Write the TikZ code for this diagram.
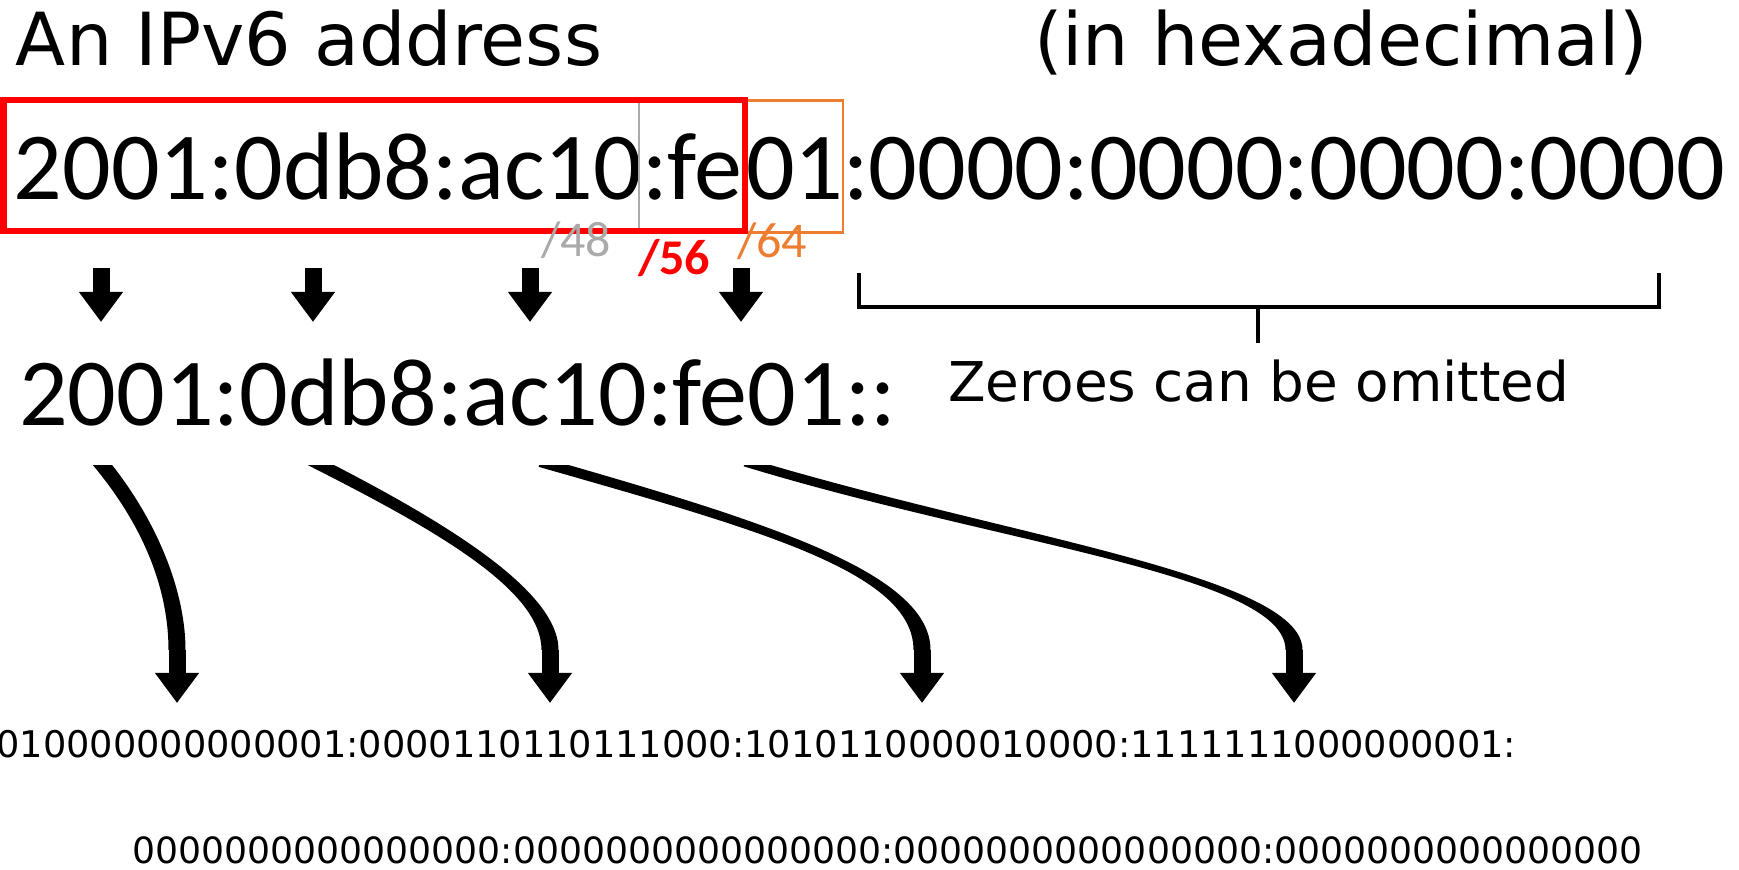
\documentclass[tikz,border=0pt]{standalone}
\usepackage{fontspec}
\setmainfont{DejaVu Sans}
\newfontfamily\hexfont{Carlito}
\newfontfamily\dvs{DejaVu Sans}
\usetikzlibrary{arrows.meta,calc}
\definecolor{pfxred}{RGB}{255,0,0}
\definecolor{pfxorange}{RGB}{237,125,49}
\definecolor{pfxgray}{RGB}{170,170,170}
\newcommand\tapercurve[6]{%
  \fill ($(#1)!#5!90:(#2)$) .. controls ($(#2)!#5!-90:(#1)$) and ($(#3)!#6!90:(#4)$) .. ($(#4)!#6!-90:(#3)$)
     -- ($(#4)!#6!90:(#3)$) .. controls ($(#3)!#6!-90:(#4)$) and ($(#2)!#5!90:(#1)$) .. ($(#1)!#5!-90:(#2)$) -- cycle;}
\begin{document}
\begin{tikzpicture}[x=0.5pt,y=-0.5pt,
  txt/.style={inner sep=0pt, outer sep=0pt, anchor=base west},
  hex/.style={txt, font=\hexfont\fontsize{48pt}{48pt}\selectfont},
  titletxt/.style={txt, font=\dvs\fontsize{36.6pt}{36.6pt}\selectfont},
  notetxt/.style={txt, font=\dvs\fontsize{27.4pt}{27.4pt}\selectfont},
  bin/.style={txt, font=\dvs\fontsize{18.1pt}{18.1pt}\selectfont},
  pfx/.style={txt, font=\hexfont\fontsize{25pt}{25pt}\selectfont},
  fatarrow/.style={line width=8.5pt, -{Triangle[width=21pt,length=15pt]}},
  bracketline/.style={line width=2pt, line join=miter}
]
\useasboundingbox (0,0) rectangle (1739,870);
\clip (0,0) rectangle (1739,870);

% titles
\node[titletxt] (title) at (16,66) {An IPv6 address};
\node[titletxt] (hexnote) at (1034,66) {(in hexadecimal)};

% full address, split at prefix boundaries
\node[hex, anchor=base east] (h48) at (642,200) {2001:0db8:ac10};
\node[hex] (h56) at (642,200) {:fe};
\node[hex] (h64) at (746,200) {01};
\node[hex] (hrest) at (843,200) {:0000:0000:0000:0000};

% prefix boxes
\draw[pfxorange, line width=1.25pt] (3,100.5) rectangle (843,232.5);
\draw[pfxgray, line width=1pt] (639,103) -- (639,229);
\draw[pfxred, line width=3pt] (3.5,100.5) rectangle (745,231.5);

\node[pfx, text=pfxgray] (l48) at (541,257) {/48};
\node[pfx, text=pfxred, font=\hexfont\bfseries\fontsize{25pt}{25pt}\selectfont] (l56) at (638,275) {/56};
\node[pfx, text=pfxorange] (l64) at (737,258) {/64};

% short form
\node[hex] (short) at (19,426) {2001:0db8:ac10:fe01::};

% small arrows
\foreach \i/\x in {1/101,2/313,3/530,4/741}{
  \coordinate (s\i) at (\x,268);
  \coordinate (e\i) at (\x,322);
  \draw[fatarrow] (s\i) -- (e\i);
}

% bracket over zeroes
\coordinate (bl) at (859,273);
\coordinate (br) at (1659,273);
\coordinate (bm) at (1258,307);
\coordinate (bt) at (1258,343);
\draw[bracketline] (bl) |- (bm) -| (br);
\draw[bracketline] (bm) -- (bt);
\node[notetxt] (zeroes) at (948,402) {Zeroes can be omitted};

% curved arrows
\coordinate (a1p0) at (95,456);  \coordinate (a1p1) at (150,520);  \coordinate (a1p2) at (177,590);  \coordinate (a1p3) at (177,650);
\coordinate (a2p0) at (307,458); \coordinate (a2p1) at (440,525);  \coordinate (a2p2) at (550,590);  \coordinate (a2p3) at (550,650);
\coordinate (a3p0) at (540,462); \coordinate (a3p1) at (760,525);  \coordinate (a3p2) at (922,572);  \coordinate (a3p3) at (922,650);
\coordinate (a4p0) at (745,462); \coordinate (a4p1) at (1000,540); \coordinate (a4p2) at (1294,575); \coordinate (a4p3) at (1294,650);
\begin{scope}
  \clip (0,466) rectangle (1739,651);
  \tapercurve{a1p0}{a1p1}{a1p2}{a1p3}{3.75pt}{4.25pt}
  \tapercurve{a2p0}{a2p1}{a2p2}{a2p3}{3pt}{4.25pt}
  \tapercurve{a3p0}{a3p1}{a3p2}{a3p3}{2.5pt}{4.25pt}
  \tapercurve{a4p0}{a4p1}{a4p2}{a4p3}{2.25pt}{4.25pt}
\end{scope}
\foreach \i/\x in {1/177,2/550,3/922,4/1294}{
  \coordinate (t\i) at (\x,703);
  \draw[fatarrow] (a\i p3) -- (t\i);
}

% binary
\node[bin, font=\dvs\fontsize{18.35pt}{18.35pt}\selectfont] (bin1) at (-27,757) {0010000000000001:0000110110111000:1010110000010000:1111111000000001:};
\node[bin] (bin2) at (132.6,863) {0000000000000000:0000000000000000:0000000000000000:0000000000000000};
\end{tikzpicture}
\end{document}
